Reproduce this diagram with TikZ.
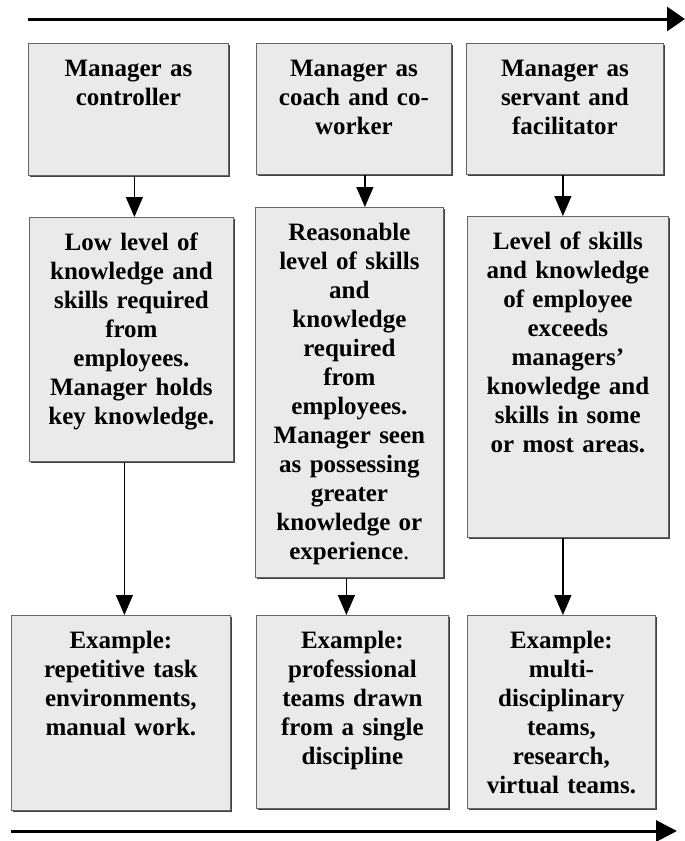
\documentclass[tikz,border=0pt]{standalone}
\usepackage{fontspec}
\setmainfont{Liberation Serif}
\usepackage{xcolor}
\usetikzlibrary{arrows.meta,shadows}
\definecolor{boxgrey}{RGB}{234,234,234}
\tikzset{
  panel/.style={draw=black!60, line width=0.8pt, fill=boxgrey, anchor=north west,
    drop shadow={shadow xshift=1.2pt, shadow yshift=-1.2pt, fill=black!75, opacity=1},
    inner sep=0pt, align=center, text height=33pt,
    font=\bfseries\fontsize{25}{29}\selectfont},
  flow/.style={-{Triangle[length=20pt,width=17pt]}, line width=1.3pt},
  timeline/.style={line width=3pt}
}

\begin{document}
\begin{tikzpicture}[x=1pt,y=-1pt]
  \useasboundingbox (0,0) rectangle (685,841);

  \coordinate (top0) at (28,19);
  \coordinate (top1) at (685,19);
  \coordinate (bot0) at (11,831);
  \coordinate (bot1) at (677,831);

  \node[panel, text width=200pt, text depth=99pt] (t1) at (28,43) {Manager as\\controller};
  \node[panel, text width=195pt, text depth=98pt] (t2) at (256,43) {Manager as\\coach and co-\\worker};
  \node[panel, text width=197pt, text depth=98pt] (t3) at (466,43) {Manager as\\servant and\\facilitator};

  \node[panel, text width=204pt, text depth=211pt] (m1) at (29,217) {Low level of\\knowledge and\\skills required\\from\\employees.\\Manager holds\\key knowledge.};
  \node[panel, text width=188pt, text depth=337pt] (m2) at (255,207) {Reasonable\\level of skills\\and\\knowledge\\required\\from\\employees.\\Manager seen\\as possessing\\greater\\knowledge or\\experience{\mdseries .}};
  \node[panel, text width=201pt, text depth=288pt] (m3) at (467,216) {Level of skills\\and knowledge\\of employee\\exceeds\\managers'\\knowledge and\\skills in some\\or most areas.};

  \node[panel, text width=219pt, text depth=162pt] (b1) at (11,615) {Example:\\repetitive task\\environments,\\manual work.};
  \node[panel, text width=192pt, text depth=160pt] (b2) at (256,615) {Example:\\professional\\teams drawn\\from a single\\discipline};
  \node[panel, text width=188pt, text depth=160pt] (b3) at (467,615) {Example:\\multi-\\disciplinary\\teams,\\research,\\virtual teams.};

  \draw[flow] ([xshift=6]t1.south) -- ([xshift=6]t1.south |- m1.north);
  \draw[flow] ([xshift=11]t2.south) -- ([xshift=11]t2.south |- m2.north);
  \draw[flow] ([xshift=-2]t3.south) -- ([xshift=-2]t3.south |- m3.north);

  \draw[flow] ([xshift=-7]m1.south) -- ([xshift=-7]m1.south |- b1.north);
  \draw[flow] ([xshift=-3]m2.south) -- ([xshift=-3]m2.south |- b2.north);
  \draw[flow] ([xshift=-5]m3.south) -- ([xshift=-5]m3.south |- b3.north);

  \draw[timeline, -{Triangle[length=18pt,width=24pt]}] (top0) -- (top1);
  \draw[timeline, -{Triangle[length=21pt,width=21pt]}] (bot0) -- (bot1);
\end{tikzpicture}
\end{document}
